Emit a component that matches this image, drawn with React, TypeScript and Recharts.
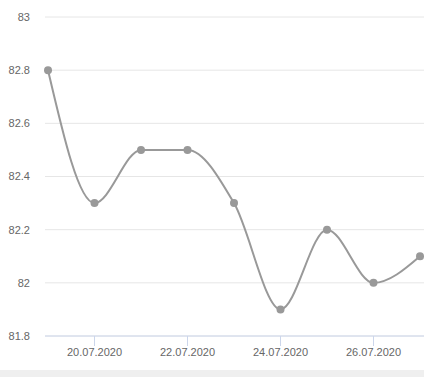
import { CartesianGrid, Line, LineChart, XAxis, YAxis } from "recharts"

const dates = [
  "19.07.2020",
  "20.07.2020",
  "21.07.2020",
  "22.07.2020",
  "23.07.2020",
  "24.07.2020",
  "25.07.2020",
  "26.07.2020",
  "27.07.2020",
]
const values = [82.8, 82.3, 82.5, 82.5, 82.3, 81.9, 82.2, 82.0, 82.1]
const xTicks = [1, 3, 5, 7]
const yTicks = [81.8, 82, 82.2, 82.4, 82.6, 82.8, 83]

const data = values.map((v, i) => ({ idx: i, date: dates[i], value: v }))

const fmtY = (v: number) => String(Number(v.toFixed(1)))

export default function App() {
  return (
    <div style={{ position: "absolute", left: 0, top: 0, width: 424, height: 377, background: "#efefef" }}>
      <div style={{ width: 424, height: 370, background: "#fff" }}>
        <LineChart width={424} height={370} data={data} margin={{ top: 17, right: 0, left: 0, bottom: 0 }}>
          <CartesianGrid vertical={false} stroke="#e6e6e6" />
          <XAxis
            dataKey="idx"
            type="number"
            domain={[-0.065, 8.086]}
            ticks={xTicks}
            tickFormatter={(v: number) => dates[v]}
            height={34}
            stroke="#ccd6eb"
            tickSize={10}
            tickMargin={2}
            tick={{ fill: "#666", fontSize: 11, fontFamily: "Arial, Liberation Sans, sans-serif" }}
          />
          <YAxis
            domain={[81.8, 83]}
            ticks={yTicks}
            tickFormatter={fmtY}
            width={45}
            axisLine={false}
            tickLine={false}
            tickSize={0}
            tickMargin={15}
            tick={{ fill: "#666", fontSize: 11, fontFamily: "Arial, Liberation Sans, sans-serif" }}
          />
          <Line
            type="monotone"
            dataKey="value"
            stroke="#999"
            strokeWidth={2}
            dot={{ r: 4, fill: "#999", stroke: "none" }}
            isAnimationActive={false}
          />
        </LineChart>
      </div>
    </div>
  )
}
